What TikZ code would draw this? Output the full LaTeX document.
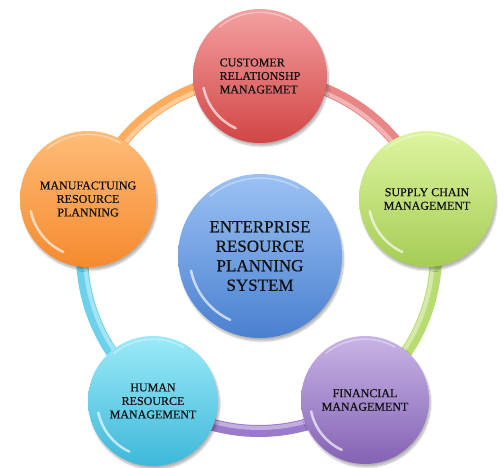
\documentclass[tikz,border=0pt]{standalone}
\usepackage{fontspec}
\setmainfont[FakeBold=0.6]{Liberation Serif}
\usetikzlibrary{calc,shadows.blur}
\definecolor{redT}{HTML}{F4A0A0}\definecolor{redB}{HTML}{D24545}
\definecolor{greenT}{HTML}{DDF5A0}\definecolor{greenB}{HTML}{A6CC55}
\definecolor{purpleT}{HTML}{C8B4E6}\definecolor{purpleB}{HTML}{8462B4}
\definecolor{cyanT}{HTML}{9CEAF8}\definecolor{cyanB}{HTML}{3EB8DA}
\definecolor{orangeT}{HTML}{FFBC78}\definecolor{orangeB}{HTML}{F58A2E}
\definecolor{blueT}{HTML}{9CC2F4}\definecolor{blueB}{HTML}{4A80D0}
\definecolor{redR}{HTML}{E98585}\definecolor{greenR}{HTML}{B9DC72}
\definecolor{purpleR}{HTML}{9A7ACB}\definecolor{cyanR}{HTML}{6CD2EC}
\definecolor{orangeR}{HTML}{FFAC5C}
\definecolor{txt}{HTML}{111111}
\begin{document}
\begin{tikzpicture}[x=1pt,y=1pt,
    ball/.style={circle,inner sep=0pt,text=txt,align=center,
      font=\fontsize{12}{13.5}\selectfont,
      blur shadow={shadow xshift=1.5pt,shadow yshift=-3pt,shadow opacity=30,shadow blur steps=8}},
    band/.style={line width=12pt},
    shine/.style={white,opacity=.65,line width=2.5pt,line cap=round}]
  \useasboundingbox (0,0) rectangle (504,468);
  \coordinate (c) at (259,214);
  % ring
  \foreach \a/\b/\col in {90/18/redR,18/-54/greenR,-54/-126/purpleR,-126/-198/cyanR,162/90/orangeR}{
    \draw[band,\col] ($(c)+(\a:177)$) arc (\a:\b:177);
    \draw[line width=4pt,white,opacity=.4] ($(c)+(\a:174)$) arc (\a:\b:174);
  }
  % outer circles
  \node[ball,minimum size=134pt,top color=redT,bottom color=redB,align=left] (1) at (260,392)
    {CUSTOMER\\RELATIONSHP\\MANAGEMET};
  \node[ball,minimum size=136pt,top color=greenT,bottom color=greenB] (2) at (427,269)
    {SUPPLY CHAIN\\MANAGEMENT};
  \node[ball,minimum size=128pt,top color=purpleT,bottom color=purpleB] (3) at (365,68)
    {FINANCIAL\\MANAGEMENT};
  \node[ball,minimum size=130pt,top color=cyanT,bottom color=cyanB] (4) at (153,67)
    {HUMAN\\RESOURCE\\MANAGEMENT};
  \node[ball,minimum size=136pt,top color=orangeT,bottom color=orangeB] (5) at (88,269)
    {MANUFACTUING\\RESOURCE\\PLANNING};
  % centre
  \node[ball,minimum size=164pt,top color=blueT,bottom color=blueB,
    font=\fontsize{17}{19.5}\selectfont] (erp) at (260,212)
    {ENTERPRISE\\RESOURCE\\PLANNING\\SYSTEM};
  % gloss
  \foreach \n/\r in {1/67,2/68,3/64,4/65,5/68,erp/82}{
    \draw[shine] (\n.center) ++(192:0.86*\r) arc (192:245:0.86*\r);
    \draw[white,opacity=.35,line width=1.5pt] (\n.center) ++(60:0.95*\r) arc (60:130:0.95*\r);
  }
\end{tikzpicture}
\end{document}
